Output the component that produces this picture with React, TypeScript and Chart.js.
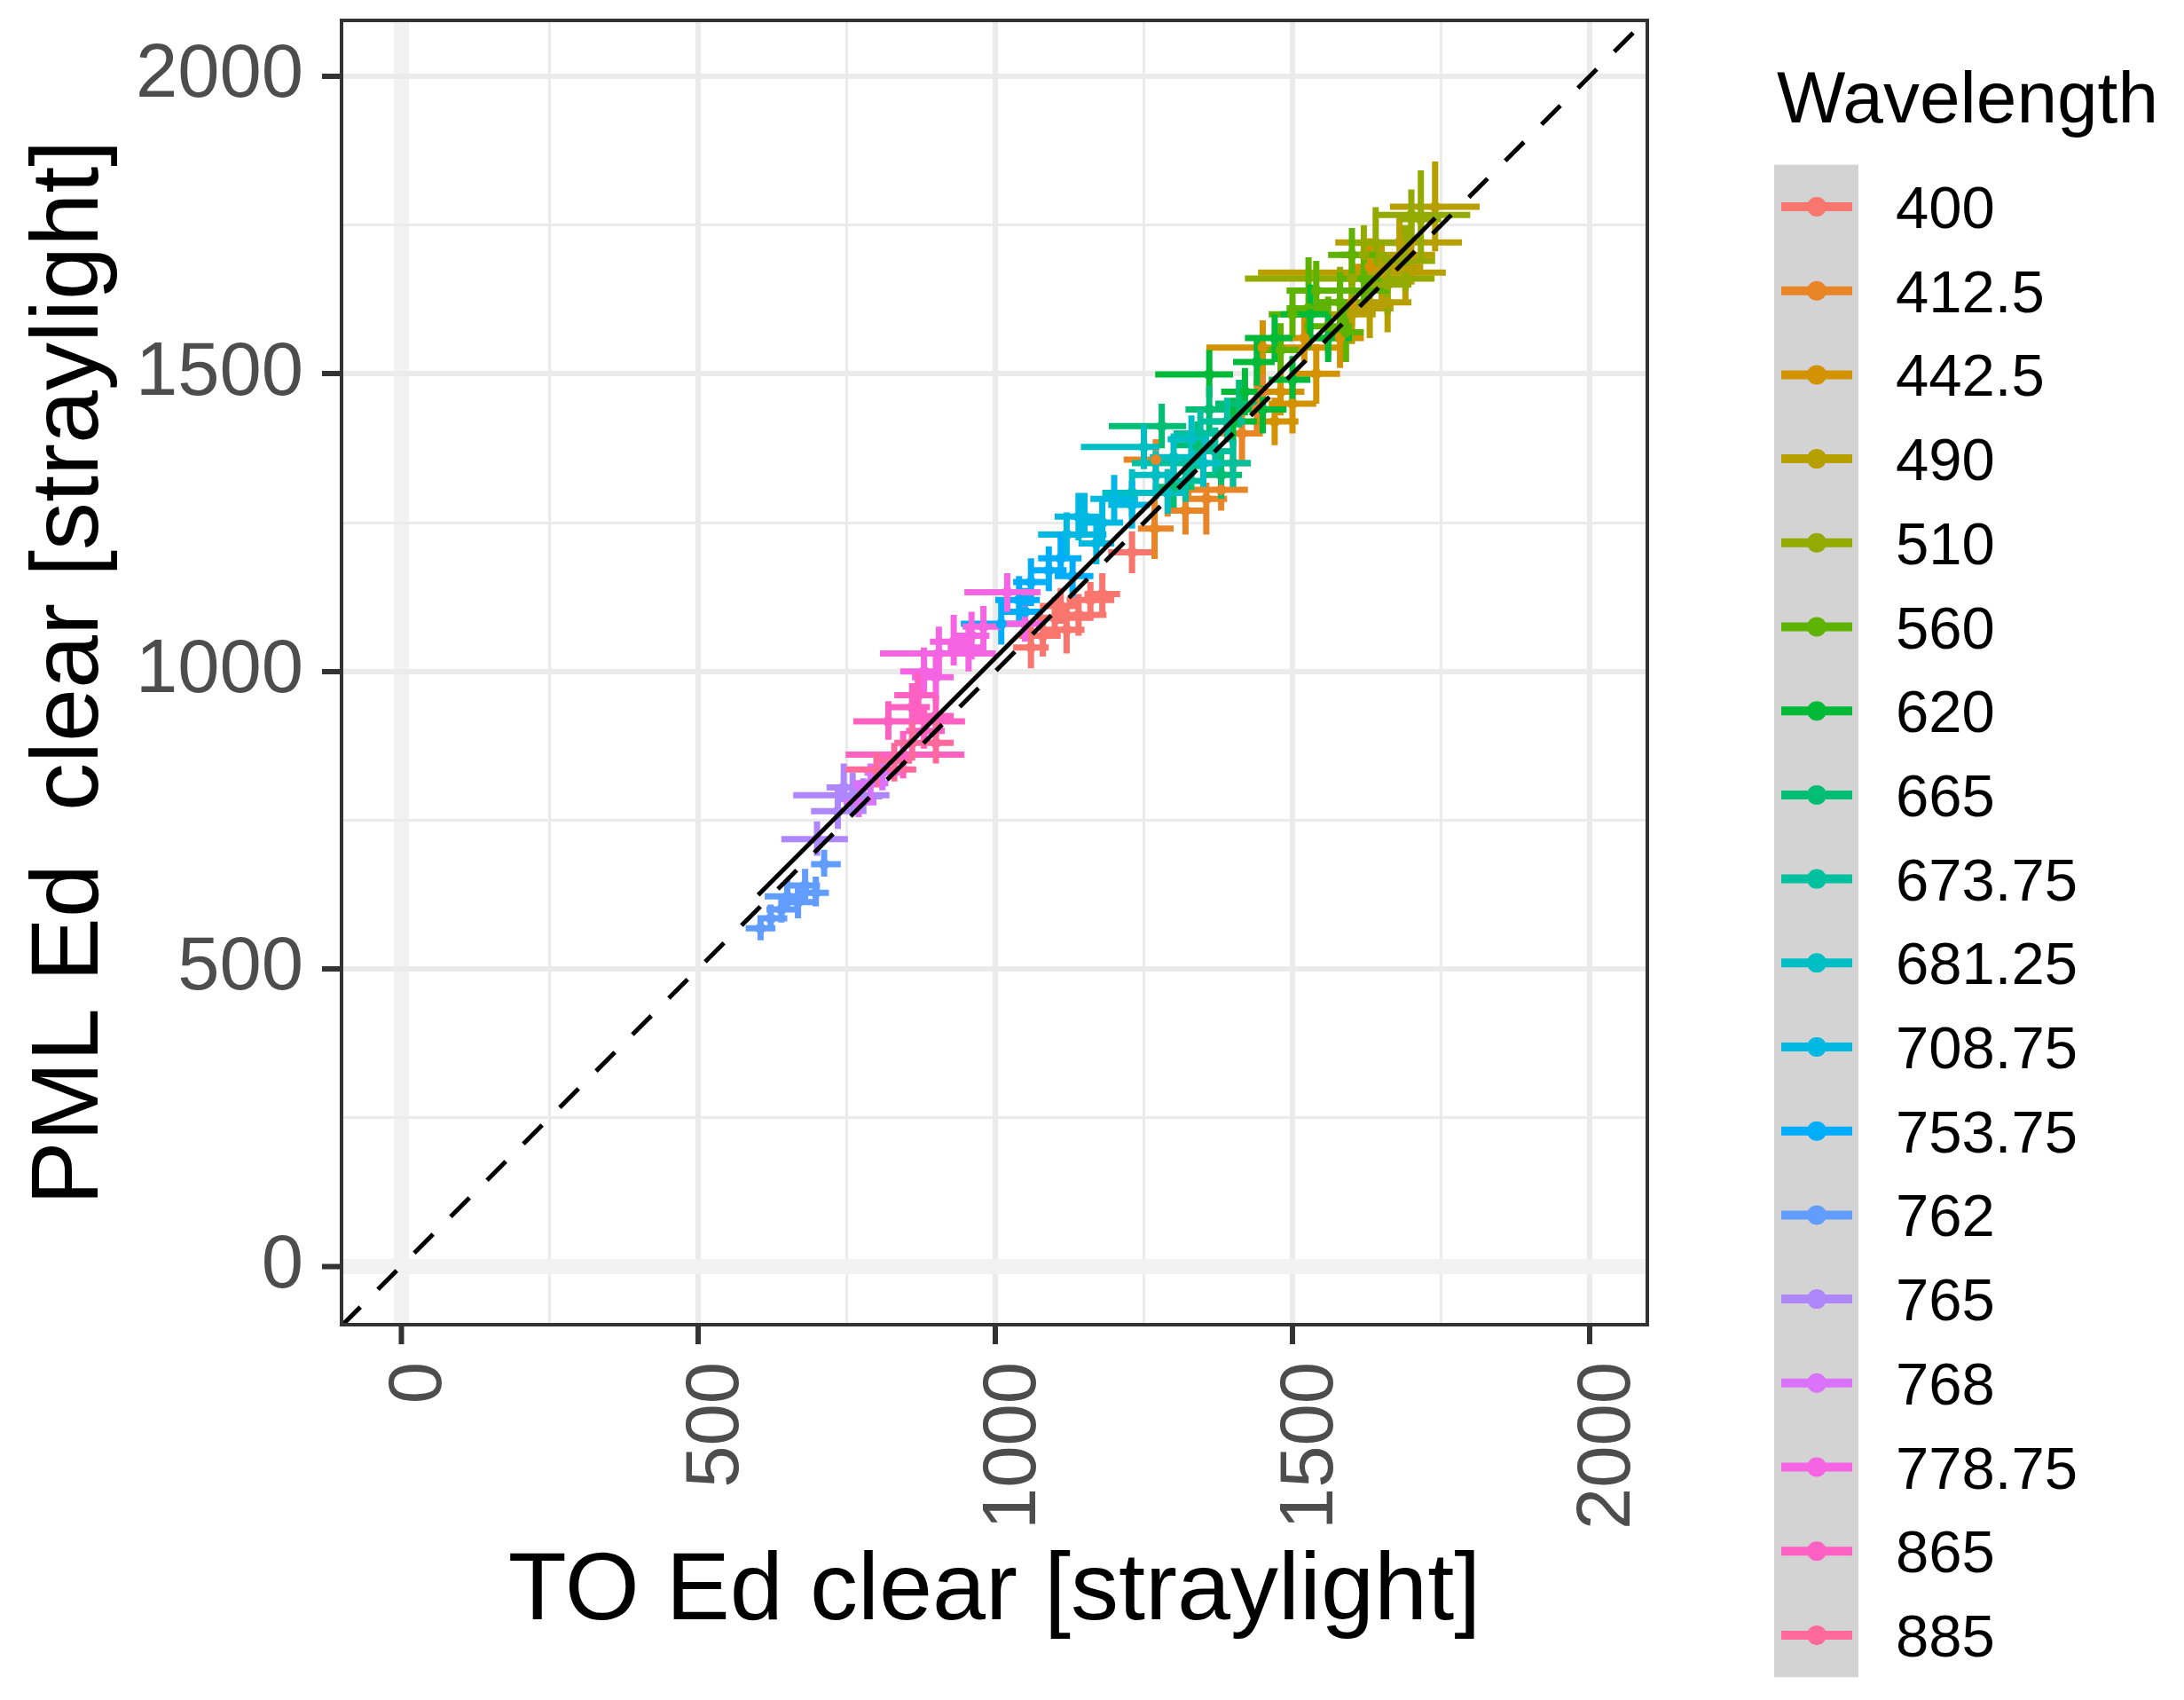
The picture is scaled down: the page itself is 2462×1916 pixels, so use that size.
import { useEffect, useRef } from 'react';
import { Chart, registerables } from 'chart.js';

Chart.register(...registerables);

const FONT = "'Liberation Sans', Arial, sans-serif";

// one crosshair: [x, y, xmin, xmax, ymin, ymax]
type Cross = [number, number, number, number, number, number];

const wavelengths = [
  '400', '412.5', '442.5', '490', '510', '560', '620', '665', '673.75',
  '681.25', '708.75', '753.75', '762', '765', '768', '778.75', '865', '885',
];

const s400: Cross[] = [
  [1060, 1040, 1030, 1090, 1005, 1075],
  [1080, 1060, 1040, 1110, 1025, 1095],
  [1100, 1090, 1070, 1160, 1055, 1125],
  [1120, 1070, 1085, 1150, 1030, 1105],
  [1140, 1095, 1105, 1187, 1060, 1130],
  [1180, 1130, 1150, 1210, 1100, 1165],
  [1230, 1200, 1190, 1265, 1165, 1235],
  [1110, 1110, 1075, 1140, 1080, 1140],
  [1160, 1120, 1120, 1200, 1085, 1150],
];
const s412: Cross[] = [
  [1270, 1356, 1216, 1300, 1320, 1390],
  [1380, 1305, 1330, 1425, 1270, 1340],
  [1268, 1240, 1240, 1300, 1189, 1290],
  [1355, 1290, 1320, 1390, 1230, 1317],
  [1415, 1400, 1380, 1450, 1348, 1438],
  [1440, 1440, 1400, 1480, 1400, 1490],
  [1320, 1270, 1290, 1350, 1230, 1310],
  [1290, 1300, 1250, 1330, 1260, 1340],
  [1400, 1350, 1370, 1430, 1300, 1390],
  [1450, 1470, 1420, 1490, 1430, 1510],
];
const s442: Cross[] = [
  [1450, 1544, 1355, 1584, 1500, 1590],
  [1630, 1680, 1600, 1660, 1632, 1728],
  [1500, 1450, 1460, 1540, 1400, 1500],
  [1540, 1500, 1500, 1580, 1450, 1550],
  [1470, 1420, 1430, 1510, 1380, 1460],
  [1580, 1560, 1545, 1620, 1510, 1610],
  [1520, 1560, 1480, 1560, 1520, 1600],
  [1600, 1620, 1560, 1640, 1580, 1660],
  [1480, 1470, 1440, 1520, 1430, 1510],
];
const s490: Cross[] = [
  [1740, 1781, 1664, 1815, 1706, 1857],
  [1650, 1670, 1442, 1758, 1620, 1720],
  [1680, 1721, 1572, 1785, 1670, 1770],
  [1630, 1610, 1590, 1670, 1560, 1660],
  [1690, 1680, 1650, 1720, 1620, 1730],
  [1660, 1620, 1625, 1700, 1570, 1670],
  [1700, 1700, 1660, 1740, 1650, 1760],
  [1600, 1600, 1560, 1640, 1550, 1650],
];
const s510: Cross[] = [
  [1600, 1660, 1420, 1739, 1615, 1710],
  [1700, 1767, 1643, 1799, 1720, 1810],
  [1716, 1760, 1680, 1750, 1691, 1842],
  [1620, 1700, 1580, 1660, 1650, 1750],
  [1660, 1650, 1620, 1700, 1600, 1700],
  [1580, 1620, 1540, 1620, 1570, 1680],
  [1640, 1720, 1600, 1680, 1680, 1780],
  [1690, 1690, 1650, 1740, 1640, 1750],
];
const s560: Cross[] = [
  [1540, 1640, 1490, 1664, 1600, 1690],
  [1527, 1610, 1490, 1560, 1542, 1696],
  [1560, 1580, 1520, 1600, 1530, 1630],
  [1580, 1620, 1540, 1610, 1570, 1670],
  [1600, 1700, 1560, 1640, 1650, 1745],
  [1480, 1540, 1440, 1510, 1500, 1585],
  [1590, 1570, 1560, 1620, 1520, 1620],
  [1500, 1600, 1460, 1540, 1560, 1640],
  [1620, 1660, 1580, 1650, 1620, 1700],
];
const s620: Cross[] = [
  [1360, 1499, 1269, 1400, 1460, 1540],
  [1420, 1470, 1380, 1450, 1430, 1510],
  [1440, 1520, 1400, 1470, 1480, 1560],
  [1470, 1560, 1420, 1500, 1520, 1600],
  [1500, 1490, 1460, 1530, 1450, 1530],
  [1530, 1600, 1480, 1560, 1555, 1650],
  [1450, 1440, 1410, 1490, 1400, 1480],
  [1400, 1420, 1360, 1440, 1380, 1460],
  [1560, 1560, 1520, 1600, 1520, 1600],
];
const s665: Cross[] = [
  [1280, 1412, 1191, 1321, 1375, 1450],
  [1360, 1440, 1320, 1390, 1400, 1480],
  [1380, 1330, 1345, 1415, 1290, 1370],
  [1410, 1450, 1370, 1440, 1410, 1490],
  [1300, 1310, 1265, 1335, 1275, 1350],
  [1340, 1380, 1300, 1370, 1340, 1420],
];
const s673: Cross[] = [
  [1320, 1320, 1285, 1350, 1285, 1360],
  [1345, 1400, 1300, 1380, 1360, 1440],
  [1370, 1370, 1335, 1400, 1330, 1410],
  [1390, 1420, 1350, 1420, 1385, 1460],
  [1400, 1350, 1370, 1430, 1310, 1390],
  [1330, 1350, 1230, 1360, 1315, 1385],
];
const s681: Cross[] = [
  [1250, 1377, 1144, 1276, 1340, 1415],
  [1270, 1330, 1230, 1300, 1290, 1370],
  [1300, 1360, 1260, 1330, 1320, 1400],
  [1330, 1390, 1290, 1360, 1350, 1430],
  [1290, 1300, 1260, 1320, 1265, 1340],
  [1350, 1350, 1320, 1380, 1310, 1390],
  [1230, 1300, 1180, 1260, 1260, 1340],
];
const s708: Cross[] = [
  [1120, 1230, 1072, 1187, 1195, 1267],
  [1150, 1260, 1110, 1180, 1225, 1300],
  [1180, 1250, 1145, 1215, 1210, 1290],
  [1200, 1290, 1160, 1240, 1250, 1330],
  [1230, 1280, 1190, 1260, 1240, 1320],
  [1170, 1215, 1140, 1200, 1180, 1250],
  [1140, 1260, 1100, 1170, 1220, 1300],
];
const s753: Cross[] = [
  [1010, 1080, 942, 1040, 1045, 1120],
  [1040, 1120, 1000, 1075, 1085, 1160],
  [1060, 1150, 1030, 1095, 1110, 1190],
  [1090, 1170, 1060, 1120, 1135, 1210],
  [1110, 1190, 1072, 1145, 1155, 1235],
  [1130, 1160, 1100, 1165, 1125, 1195],
  [1050, 1100, 1010, 1080, 1060, 1140],
];
const s762: Cross[] = [
  [605, 568, 580, 630, 548, 590],
  [622, 585, 600, 650, 565, 608],
  [640, 600, 615, 665, 578, 625],
  [650, 622, 612, 680, 598, 650],
  [668, 612, 640, 695, 585, 640],
  [680, 640, 650, 705, 615, 668],
  [698, 628, 672, 720, 605, 655],
  [712, 676, 690, 740, 655, 700],
];
const s765: Cross[] = [
  [700, 718, 640, 752, 690, 748],
  [735, 765, 690, 775, 735, 800],
  [760, 792, 660, 822, 760, 830],
  [745, 805, 716, 790, 780, 845],
  [778, 790, 740, 810, 760, 820],
];
const s768: Cross[] = [
  [790, 812, 760, 820, 785, 845],
  [810, 830, 780, 840, 800, 860],
  [770, 780, 745, 800, 755, 808],
];
const s778: Cross[] = [
  [880, 1000, 840, 910, 965, 1040],
  [905, 1030, 806, 1001, 990, 1075],
  [930, 1050, 890, 960, 1010, 1095],
  [955, 1040, 920, 985, 1000, 1080],
  [980, 1075, 945, 1010, 1040, 1110],
  [1020, 1133, 948, 1076, 1100, 1165],
  [870, 960, 835, 900, 930, 995],
  [1050, 1080, 1010, 1080, 1050, 1110],
  [900, 990, 860, 930, 950, 1030],
  [960, 1060, 930, 990, 1020, 1100],
];
const s865: Cross[] = [
  [820, 916, 761, 949, 885, 950],
  [860, 940, 815, 890, 905, 980],
  [880, 900, 850, 915, 870, 935],
  [845, 860, 748, 948, 820, 900],
  [900, 925, 870, 930, 890, 960],
  [870, 960, 830, 900, 920, 1000],
];
const s885: Cross[] = [
  [800, 835, 748, 867, 805, 865],
  [830, 850, 800, 860, 815, 880],
  [860, 880, 830, 890, 850, 915],
  [900, 880, 870, 930, 845, 915],
];

const crosses = [
  s400, s412, s442, s490, s510, s560, s620, s665, s673,
  s681, s708, s753, s762, s765, s768, s778, s865, s885,
];

// linear fit drawn over the data range, and the 1:1 line
const fitX = [601, 1740];
const fitY = [624, 1762];
const xRange = [-100, 2097];
const yRange = [-98, 2094];

const gridValues = [0, 250, 500, 750, 1000, 1250, 1500, 1750, 2000];
const labelValues = [0, 500, 1000, 1500, 2000];

// ggplot's default hue palette: hcl(h, 100, 65)
function hcl(h: number, c: number, l: number) {
  const hr = (h * Math.PI) / 180;
  const U = c * Math.cos(hr);
  const V = c * Math.sin(hr);
  const Xn = 95.047, Yn = 100, Zn = 108.883;
  const den = Xn + 15 * Yn + 3 * Zn;
  const un = (4 * Xn) / den;
  const vn = (9 * Yn) / den;
  const Y = l > 8 ? Yn * Math.pow((l + 16) / 116, 3) : (Yn * l) / 903.3;
  const u = U / (13 * l) + un;
  const v = V / (13 * l) + vn;
  const X = (Y * 9 * u) / (4 * v);
  const Z = (Y * (12 - 3 * u - 20 * v)) / (4 * v);
  const x = X / 100, y = Y / 100, z = Z / 100;
  const lin = [
    3.2404542 * x - 1.5371385 * y - 0.4985314 * z,
    -0.969266 * x + 1.8760108 * y + 0.041556 * z,
    0.0556434 * x - 0.2040259 * y + 1.0572252 * z,
  ];
  const rgb = lin.map((t) => {
    const g = t <= 0.0031308 ? 12.92 * t : 1.055 * Math.pow(t, 1 / 2.4) - 0.055;
    return Math.round(Math.min(1, Math.max(0, g)) * 255);
  });
  return `rgb(${rgb[0]}, ${rgb[1]}, ${rgb[2]})`;
}

const colors = wavelengths.map((_, i) => hcl(15 + (360 * i) / wavelengths.length, 100, 65));

const legendPlugin = {
  id: 'ggLegend',
  afterDraw(chart: Chart) {
    const ctx = chart.ctx;
    const step = 94.7;
    const first = 233;
    ctx.save();
    ctx.fillStyle = '#000000';
    ctx.textBaseline = 'alphabetic';
    ctx.textAlign = 'left';
    ctx.font = `82px ${FONT}`;
    ctx.fillText('Wavelength', 2003, 138);

    ctx.fillStyle = '#D3D3D3';
    ctx.fillRect(2000, first - step / 2, 95, step * wavelengths.length);

    ctx.font = `67px ${FONT}`;
    wavelengths.forEach((w, i) => {
      const cy = first + step * i;
      ctx.strokeStyle = colors[i];
      ctx.lineWidth = 10;
      ctx.beginPath();
      ctx.moveTo(2008, cy);
      ctx.lineTo(2088, cy);
      ctx.stroke();
      ctx.fillStyle = colors[i];
      ctx.beginPath();
      ctx.arc(2048, cy, 11, 0, Math.PI * 2);
      ctx.fill();
      ctx.fillStyle = '#000000';
      ctx.fillText(w, 2137, cy + 24);
    });
    ctx.restore();
  },
};

const borderPlugin = {
  id: 'panelBorder',
  afterDatasetsDraw(chart: Chart) {
    const { ctx, chartArea } = chart;
    ctx.save();
    ctx.strokeStyle = '#333333';
    ctx.lineWidth = 4;
    ctx.strokeRect(chartArea.left, chartArea.top, chartArea.right - chartArea.left, chartArea.bottom - chartArea.top);
    ctx.restore();
  },
};

const gridOpts = {
  color: (c: any) => (c.tick.value === 0 ? '#F2F2F2' : '#EBEBEB'),
  lineWidth: (c: any) => (c.tick.value === 0 ? 17 : c.tick.value % 500 === 0 ? 6 : 3),
  tickColor: (c: any) => (labelValues.includes(c.tick.value) ? '#333333' : 'rgba(0,0,0,0)'),
  tickWidth: 6,
  tickLength: 22,
  drawTicks: true,
};

export default function App() {
  const chartRef = useRef<HTMLCanvasElement>(null);
  const chartInstance = useRef<Chart | null>(null);

  useEffect(() => {
    if (!chartRef.current) return;
    if (chartInstance.current) chartInstance.current.destroy();

    const errorSets = crosses.map((pts, i) => ({
      type: 'line' as const,
      data: pts.flatMap((p) => [
        { x: p[2], y: p[1] },
        { x: p[3], y: p[1] },
        { x: p[0], y: null },
        { x: p[0], y: p[4] },
        { x: p[0], y: p[5] },
        { x: p[0], y: null },
      ]),
      borderColor: colors[i],
      borderWidth: 7,
      borderCapStyle: 'butt' as const,
      pointRadius: 0,
      spanGaps: false,
      tension: 0,
      fill: false,
    }));

    const pointSets = crosses.map((pts, i) => ({
      type: 'scatter' as const,
      data: pts.map((p) => ({ x: p[0], y: p[1] })),
      backgroundColor: colors[i],
      borderWidth: 0,
      pointRadius: 6,
    }));

    const lineSets = [
      {
        type: 'line' as const,
        data: xRange.map((v) => ({ x: v, y: v })),
        borderColor: '#000000',
        borderWidth: 5,
        borderDash: [30, 28],
        pointRadius: 0,
        fill: false,
      },
      {
        type: 'line' as const,
        data: fitX.map((v, i) => ({ x: v, y: fitY[i] })),
        borderColor: '#000000',
        borderWidth: 5,
        pointRadius: 0,
        fill: false,
      },
    ];

    chartInstance.current = new Chart(chartRef.current, {
      type: 'scatter',
      data: { datasets: [...lineSets, ...pointSets.reverse(), ...errorSets.reverse()] as any },
      options: {
        animation: false,
        responsive: false,
        devicePixelRatio: 1,
        events: [],
        layout: { padding: { left: 0, top: 23, right: 605, bottom: 0 } },
        plugins: {
          legend: { display: false },
          tooltip: { enabled: false },
        },
        scales: {
          x: {
            type: 'linear',
            min: xRange[0],
            max: xRange[1],
            afterBuildTicks: (scale: any) => {
              scale.ticks = gridValues.map((v) => ({ value: v }));
            },
            afterFit: (scale: any) => {
              scale.height = 423;
              scale.paddingLeft = 0;
              scale.paddingRight = 0;
            },
            grid: gridOpts,
            border: { display: false },
            ticks: {
              autoSkip: false,
              minRotation: 90,
              maxRotation: 90,
              padding: 20,
              labelOffset: 22,
              color: '#4D4D4D',
              font: { family: FONT, size: 85 },
              callback: (v: any) => (labelValues.includes(Number(v)) ? String(v) : ''),
            },
            title: {
              display: true,
              text: 'TO Ed clear [straylight]',
              color: '#000000',
              font: { family: FONT, size: 108 },
              padding: { top: 0, bottom: 56 },
            },
          },
          y: {
            type: 'linear',
            min: yRange[0],
            max: yRange[1],
            afterBuildTicks: (scale: any) => {
              scale.ticks = gridValues.map((v) => ({ value: v }));
            },
            afterFit: (scale: any) => {
              scale.width = 385;
              scale.paddingTop = 0;
              scale.paddingBottom = 0;
            },
            grid: gridOpts,
            border: { display: false },
            ticks: {
              autoSkip: false,
              padding: 21,
              color: '#4D4D4D',
              font: { family: FONT, size: 85 },
              callback: (v: any) => (labelValues.includes(Number(v)) ? String(v) : ''),
            },
            title: {
              display: true,
              text: 'PML Ed  clear [straylight]',
              color: '#000000',
              font: { family: FONT, size: 108 },
              padding: { top: 15, bottom: 0 },
            },
          },
        },
      },
      plugins: [borderPlugin, legendPlugin],
    });

    return () => {
      if (chartInstance.current) {
        chartInstance.current.destroy();
        chartInstance.current = null;
      }
    };
  }, []);

  return (
    <div style={{ position: 'fixed', left: 0, top: 0, width: 2462, height: 1916, background: '#ffffff' }}>
      <canvas ref={chartRef} width={2462} height={1916}></canvas>
    </div>
  );
}
